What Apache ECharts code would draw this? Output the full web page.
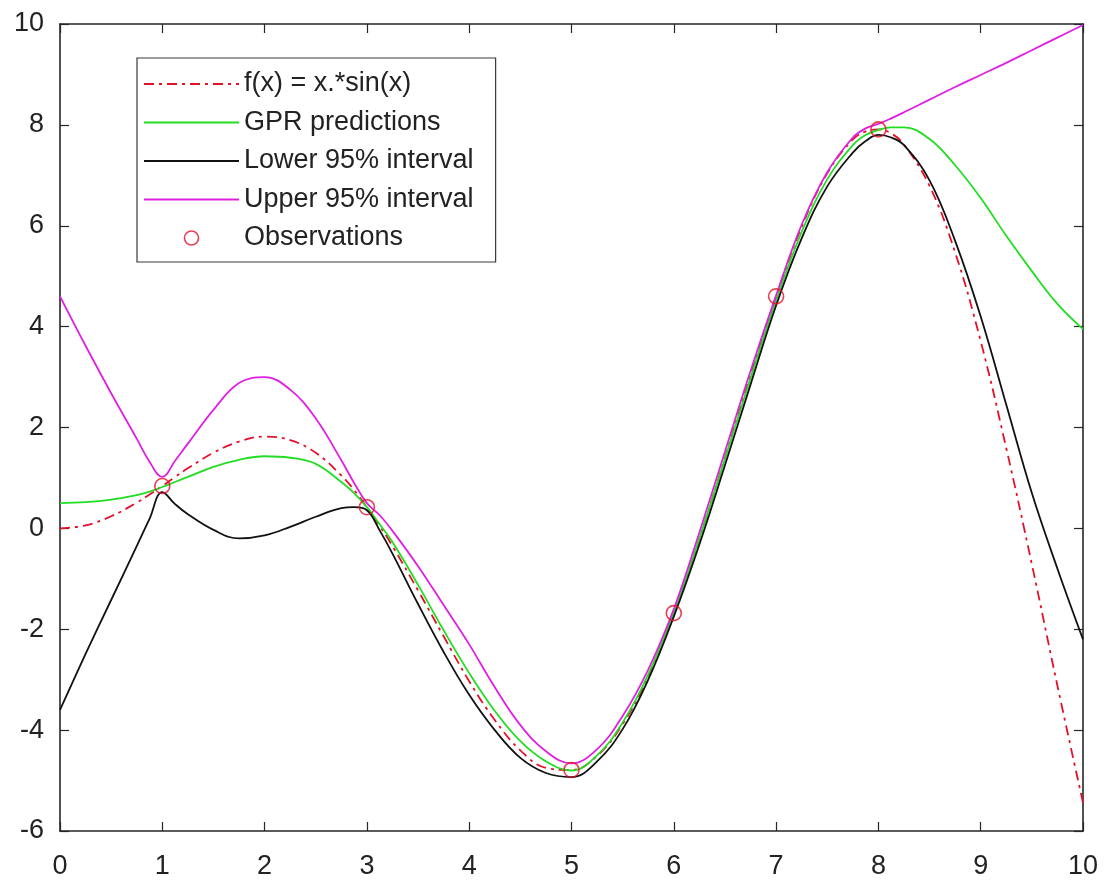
<!DOCTYPE html>
<html>
<head>
<meta charset="utf-8">
<script src="https://cdn.jsdelivr.net/npm/echarts@6/dist/echarts.min.js"></script>
<style>
html,body{margin:0;padding:0;background:#fff;}
#chart{width:1107px;height:882px;}
</style>
</head>
<body>
<div id="chart"></div>
<script>
// x grid of the curves (denser around the observation kinks)
const xs = [0,0.25,0.5,0.75,0.875,1,1.125,1.25,1.5,1.75,2,2.25,2.5,2.75,2.875,3,3.125,3.25,3.5,3.75,4,4.25,4.5,4.75,5,5.25,5.5,5.75,6,6.25,6.5,6.75,7,7.25,7.5,7.75,7.875,8,8.125,8.25,8.5,8.75,9,9.25,9.5,9.75,10];
// f(x) = x.*sin(x)
const fxVals = [0,0.06,0.24,0.51,0.67,0.84,1.02,1.19,1.50,1.72,1.82,1.75,1.50,1.05,0.76,0.42,0.05,-0.35,-1.23,-2.14,-3.03,-3.80,-4.40,-4.75,-4.79,-4.51,-3.88,-2.93,-1.68,-0.21,1.40,3.04,4.60,5.98,7.04,7.71,7.87,7.91,7.83,7.61,6.79,5.47,3.71,1.59,-0.71,-3.12,-5.44];
// GPR predictions
const gprVals = [0.50,0.52,0.57,0.66,0.73,0.82,0.92,1.02,1.22,1.36,1.43,1.40,1.28,0.92,0.70,0.42,0.08,-0.27,-1.12,-2.02,-2.87,-3.62,-4.22,-4.62,-4.80,-4.50,-3.85,-2.90,-1.68,-0.20,1.38,2.98,4.52,5.88,6.92,7.60,7.80,7.90,7.95,7.95,7.72,7.20,6.55,5.80,5.10,4.45,3.95];
// Lower 95% interval
const lowerVals = [-3.60,-2.49,-1.42,-0.35,0.19,0.72,0.48,0.28,-0.03,-0.20,-0.14,0.03,0.23,0.40,0.42,0.36,-0.04,-0.50,-1.50,-2.45,-3.30,-4.00,-4.55,-4.85,-4.93,-4.62,-3.98,-3.00,-1.75,-0.32,1.25,2.85,4.42,5.75,6.78,7.45,7.68,7.80,7.75,7.60,6.90,5.70,4.20,2.45,0.70,-0.80,-2.20];
// Upper 95% interval
const upperVals = [4.60,3.62,2.68,1.78,1.32,1.02,1.34,1.68,2.35,2.88,3.00,2.75,2.18,1.35,0.90,0.50,0.26,-0.05,-0.75,-1.52,-2.30,-3.15,-3.90,-4.42,-4.66,-4.38,-3.72,-2.80,-1.60,-0.08,1.52,3.12,4.62,6.02,7.06,7.75,7.93,8.02,8.13,8.25,8.50,8.75,8.99,9.23,9.48,9.73,9.98];
// Observations
const obsX = [1,3,5,6,7,8];
const obsY = [0.84,0.42,-4.79,-1.68,4.60,7.91];

const seriesNames = ['f(x) = x.*sin(x)','GPR predictions','Lower 95% interval','Upper 95% interval','Observations'];
const xTicks = {min:0,max:10,interval:1};
const yTicks = {min:-6,max:10,interval:2};

const pair = (xa, ya) => xa.map((x,i)=>[x, ya[i]]);
const FONT = '"Liberation Sans", Arial, sans-serif';
const AX = '#262626';

function xAxisCfg(pos, labels){
  return {
    type:'value', position:pos, min:xTicks.min, max:xTicks.max, interval:xTicks.interval,
    axisLine:{show:true, onZero:false, lineStyle:{color:AX, width:1.6}},
    axisTick:{show:true, inside:true, length:9, lineStyle:{color:AX, width:1.2}},
    axisLabel:{show:labels, color:'#222', fontFamily:FONT, fontSize:27, margin:22},
    splitLine:{show:false}
  };
}
function yAxisCfg(pos, labels){
  return {
    type:'value', position:pos, min:yTicks.min, max:yTicks.max, interval:yTicks.interval,
    axisLine:{show:true, onZero:false, lineStyle:{color:AX, width:1.6}},
    axisTick:{show:true, inside:true, length:9, lineStyle:{color:AX, width:1.2}},
    axisLabel:{show:labels, color:'#222', fontFamily:FONT, fontSize:27, margin:16},
    splitLine:{show:false}
  };
}

const RED = '#e4102a', GREEN = '#22dd22', BLACK = '#111111', MAG = '#e020e0';
const lineW = 1.8;
const SM = 0.4;
const noSym = {opacity:0};
function lineSeries(name, vals, color, dash){
  return {name:name, type:'line', data:pair(xs, vals), symbol:'none', smooth:SM,
    lineStyle:{color:color, width:lineW, type:dash || 'solid'}, itemStyle:{color:color}};
}
const chart = echarts.init(document.getElementById('chart'), null, {renderer:'canvas'});
chart.setOption({
  animation:false,
  backgroundColor:'#fff',
  grid:{left:60, right:24, top:24, bottom:51, containLabel:false},
  xAxis:[xAxisCfg('bottom', true), xAxisCfg('top', false)],
  yAxis:[yAxisCfg('left', true), yAxisCfg('right', false)],
  legend:{
    orient:'vertical', left:137, top:58,
    padding:[12,22,10,6],
    itemWidth:95, itemHeight:14, itemGap:10.5,
    backgroundColor:'#fff', borderColor:'#3a3a3a', borderWidth:1.2, borderRadius:0,
    textStyle:{fontFamily:FONT, fontSize:27, color:'#222', lineHeight:28},
    data:[
      {name:seriesNames[0], itemStyle:noSym},
      {name:seriesNames[1], itemStyle:noSym},
      {name:seriesNames[2], itemStyle:noSym},
      {name:seriesNames[3], itemStyle:noSym},
      {name:seriesNames[4], icon:'circle', itemStyle:{color:'rgba(0,0,0,0)', borderColor:RED, borderWidth:1.6}}
    ]
  },
  series:[
    lineSeries(seriesNames[0], fxVals, RED, [10,5,3,5]),
    lineSeries(seriesNames[1], gprVals, GREEN),
    lineSeries(seriesNames[2], lowerVals, BLACK),
    lineSeries(seriesNames[3], upperVals, MAG),
    {name:seriesNames[4], type:'scatter', data:pair(obsX,obsY), symbol:'circle', symbolSize:15, z:5,
     itemStyle:{color:'rgba(0,0,0,0)', borderColor:RED, borderWidth:1.6}}
  ]
});
</script>
</body>
</html>
